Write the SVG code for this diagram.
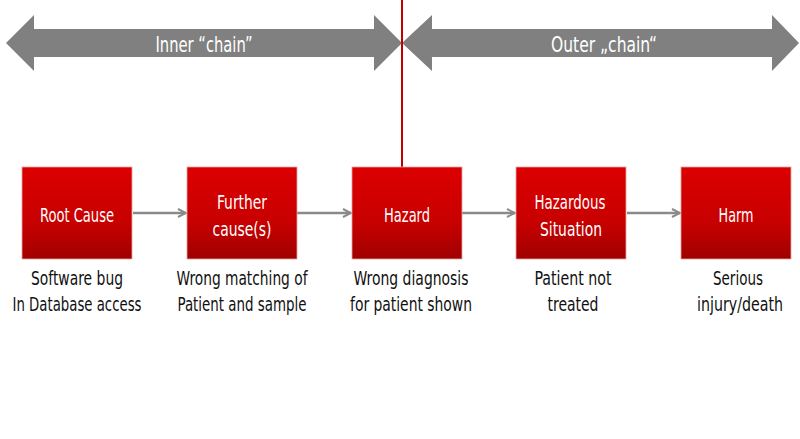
<svg xmlns="http://www.w3.org/2000/svg" width="800" height="439" viewBox="0 0 800 439">
<defs>
<linearGradient id="boxg" x1="0" y1="0" x2="0" y2="1">
<stop offset="0" stop-color="#dc0000"/>
<stop offset="0.6" stop-color="#c80000"/>
<stop offset="1" stop-color="#a00000"/>
</linearGradient>
<marker id="ah" viewBox="0 0 10 10" refX="9" refY="5" markerWidth="10" markerHeight="10" markerUnits="userSpaceOnUse" orient="auto">
<path d="M1,1 L9,5 L1,9" fill="none" stroke="#8a8a8a" stroke-width="2"/>
</marker>
</defs>
<style>
.box{fill:url(#boxg);stroke:#e8a0a0;stroke-width:0.8}
text{font-family:"DejaVu Sans Condensed","Liberation Sans Narrow","Liberation Sans",sans-serif;text-anchor:middle}
.bt{font-size:20px;fill:#fff}
.lt{font-size:20px;fill:#111}
.at{font-size:22px;fill:#fff}
.big{fill:#808080}
.con{stroke:#8a8a8a;stroke-width:2.5;fill:none;marker-end:url(#ah)}
</style>
<rect width="800" height="439" fill="#fff"/>
<g id="inner-chain">
<polygon class="big" points="6,43 34,15 34,29 374,29 374,15 402,43 374,71 374,57 34,57 34,71"/>
<text class="at" x="204" y="52" textLength="97" lengthAdjust="spacingAndGlyphs">Inner “chain”</text>
</g>
<g id="outer-chain">
<polygon class="big" points="402,43 432,15 432,29 772,29 772,15 799,43 772,71 772,57 432,57 432,71"/>
<text class="at" x="604" y="52" textLength="106" lengthAdjust="spacingAndGlyphs">Outer „chain“</text>
</g>
<g id="divider">
<line x1="402" y1="0" x2="402" y2="167" stroke="#c00000" stroke-width="2"/>
</g>
<g id="connectors">
<line class="con" x1="133" y1="213" x2="186" y2="213"/>
<line class="con" x1="297" y1="213" x2="351" y2="213"/>
<line class="con" x1="462" y1="213" x2="515" y2="213"/>
<line class="con" x1="627" y1="213" x2="680" y2="213"/>
</g>
<g id="root-cause">
<rect class="box" x="22" y="167" width="110" height="92"/>
<text class="bt" x="77" y="222" textLength="74" lengthAdjust="spacingAndGlyphs">Root Cause</text>
<text class="lt" x="77" y="285" textLength="92" lengthAdjust="spacingAndGlyphs">Software bug</text>
<text class="lt" x="77" y="311" textLength="129" lengthAdjust="spacingAndGlyphs">In Database access</text>
</g>
<g id="further-causes">
<rect class="box" x="187" y="167" width="110" height="92"/>
<text class="bt" x="242" y="209" textLength="50" lengthAdjust="spacingAndGlyphs">Further</text>
<text class="bt" x="242" y="236" textLength="59" lengthAdjust="spacingAndGlyphs">cause(s)</text>
<text class="lt" x="242" y="285" textLength="131" lengthAdjust="spacingAndGlyphs">Wrong matching of</text>
<text class="lt" x="242" y="311" textLength="129" lengthAdjust="spacingAndGlyphs">Patient and sample</text>
</g>
<g id="hazard">
<rect class="box" x="352" y="167" width="110" height="92"/>
<text class="bt" x="407" y="222" textLength="46" lengthAdjust="spacingAndGlyphs">Hazard</text>
<text class="lt" x="411" y="285" textLength="115" lengthAdjust="spacingAndGlyphs">Wrong diagnosis</text>
<text class="lt" x="411" y="311" textLength="122" lengthAdjust="spacingAndGlyphs">for patient shown</text>
</g>
<g id="hazardous-situation">
<rect class="box" x="516" y="167" width="110" height="92"/>
<text class="bt" x="570" y="209" textLength="71" lengthAdjust="spacingAndGlyphs">Hazardous</text>
<text class="bt" x="571" y="236" textLength="62" lengthAdjust="spacingAndGlyphs">Situation</text>
<text class="lt" x="573" y="285" textLength="77" lengthAdjust="spacingAndGlyphs">Patient not</text>
<text class="lt" x="573" y="311" textLength="51" lengthAdjust="spacingAndGlyphs">treated</text>
</g>
<g id="harm">
<rect class="box" x="681" y="167" width="110" height="92"/>
<text class="bt" x="736" y="222" textLength="35" lengthAdjust="spacingAndGlyphs">Harm</text>
<text class="lt" x="738" y="285" textLength="50" lengthAdjust="spacingAndGlyphs">Serious</text>
<text class="lt" x="740" y="311" textLength="86" lengthAdjust="spacingAndGlyphs">injury/death</text>
</g>
</svg>
